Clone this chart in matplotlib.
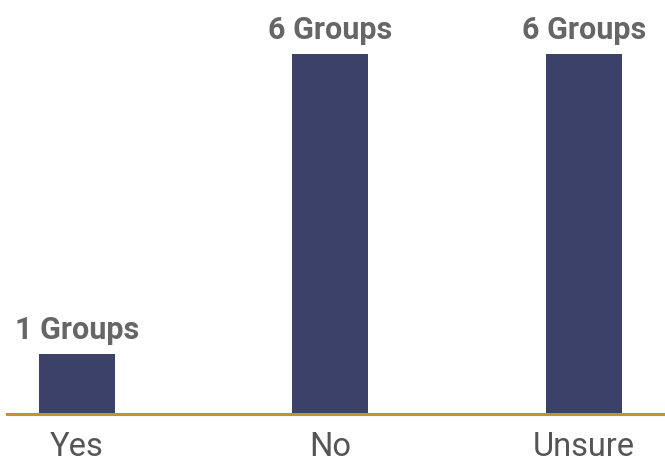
import matplotlib
matplotlib.use("Agg")
import matplotlib.pyplot as plt

categories = ["Yes", "No", "Unsure"]
counts = [1, 6, 6]
value_labels = ["1 Groups", "6 Groups", "6 Groups"]

bar_color = "#3b4169"
line_color = "#c98f2b"

fig = plt.figure(figsize=(6.65, 4.68), dpi=100)
ax = fig.add_axes([7 / 665, (468 - 414) / 468, 658 / 665, 414 / 468])

xs = range(len(categories))
ax.bar(xs, counts, width=0.30, color=bar_color, zorder=2)
for x, v, lab in zip(xs, counts, value_labels):
    ax.text(x, v + 0.25, lab, ha="center", va="baseline", fontsize=22,
            fontweight="bold", color="#666666", family="Roboto")

ax.set_xlim(-0.276, 2.32)
ax.set_ylim(0, 6.9)
ax.axhline(0, color=line_color, lw=2.2, zorder=3, clip_on=False)

ax.set_xticks(list(xs))
ax.set_xticklabels(categories, fontsize=23.5, color="#555555", family="Roboto")
ax.tick_params(axis="x", length=0, pad=12)
ax.set_yticks([])
for s in ax.spines.values():
    s.set_visible(False)

fig.savefig("out.png", dpi=100)
